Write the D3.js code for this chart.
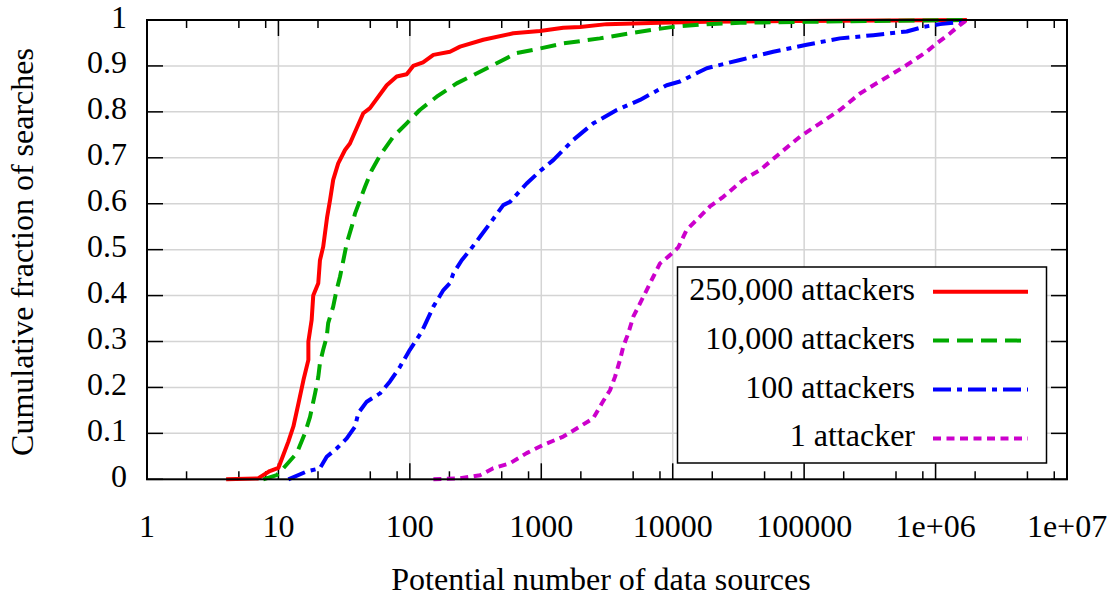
<!DOCTYPE html>
<html>
<head>
<meta charset="utf-8">
<script src="https://cdn.jsdelivr.net/npm/d3@7"></script>
</head>
<body style="margin:0">
<svg id="chart" width="1112" height="599" style="display:block"></svg>
<script>
// Cumulative distributions: [potential number of data sources, cumulative fraction]
const attackers250k = [
  [4.0,0],[7.0,0.002],[8.6,0.018],[10.0,0.025],[10.8,0.05],[11.9,0.082],[13.0,0.115],
  [14.2,0.165],[15.5,0.216],[16.9,0.26],[16.9,0.30],[17.9,0.347],[18.4,0.40],[20.1,0.427],
  [20.7,0.477],[21.9,0.506],[23.5,0.572],[24.7,0.608],[26.1,0.652],[28.5,0.688],[32.1,0.717],
  [35.0,0.731],[44.2,0.797],[49.7,0.808],[66.7,0.858],[79.4,0.877],[94.6,0.882],[106,0.90],
  [126,0.908],[151,0.924],[202,0.931],[241,0.942],[362,0.957],[612,0.971],[977,0.976],
  [1470,0.983],[1972,0.985],[3150,0.991],[8000,0.994],[18150,0.996],[93000,0.998],[1.73e6,1.0]
];
const attackers10k = [
  [7.67,0],[9.7,0.009],[10.9,0.024],[13.8,0.057],[15.9,0.10],[17.4,0.136],[19.0,0.187],
  [20.1,0.223],[20.7,0.253],[21.9,0.282],[23.3,0.31],[23.9,0.34],[26.1,0.376],[27.7,0.412],
  [29.4,0.441],[31.2,0.477],[33.1,0.514],[36.1,0.55],[38.3,0.579],[41.8,0.608],[45.6,0.637],
  [51.3,0.673],[59.3,0.705],[74.8,0.746],[94.6,0.775],[119,0.804],[160,0.833],[227,0.862],
  [304,0.88],[458,0.906],[650,0.928],[977,0.938],[1470,0.949],[2790,0.96],[4720,0.971],
  [7550,0.98],[10100,0.985],[18150,0.991],[32500,0.994],[104600,0.996],[336000,0.998],[1.73e6,1.0]
];
const attackers100 = [
  [11.9,0],[16.4,0.017],[20.7,0.024],[23.3,0.049],[27.7,0.067],[33.1,0.089],[38.3,0.115],
  [40.5,0.144],[47.0,0.169],[59.3,0.187],[70.6,0.213],[84.1,0.245],[100,0.282],[123,0.321],
  [151,0.376],[180,0.412],[202,0.427],[214,0.448],[248,0.477],[287,0.499],[342,0.528],
  [407,0.557],[514,0.597],[578,0.604],[774,0.644],[977,0.671],[1234,0.695],[1753,0.739],
  [2488,0.775],[3750,0.804],[5640,0.826],[9000,0.858],[11360,0.866],[18150,0.895],
  [32500,0.913],[58200,0.931],[104600,0.946],[187000,0.96],[336000,0.967],[603000,0.975],
  [807000,0.985],[1.08e6,0.991],[1.63e6,0.996],[1.73e6,1.0]
];
const attackers1 = [
  [151,0],[241,0.002],[342,0.009],[431,0.024],[578,0.035],[774,0.057],[1036,0.075],
  [1470,0.093],[1972,0.115],[2488,0.133],[2884,0.165],[3334,0.194],[3638,0.223],[3972,0.26],
  [4207,0.289],[4592,0.318],[5012,0.354],[5640,0.383],[6339,0.412],[7117,0.441],[8000,0.47],
  [9530,0.488],[11020,0.505],[12760,0.543],[16110,0.572],[19190,0.594],[24250,0.615],
  [34400,0.652],[46100,0.673],[65500,0.71],[93000,0.746],[132000,0.775],[187000,0.804],
  [266000,0.84],[336000,0.858],[477000,0.884],[603000,0.902],[855000,0.931],[1.02e6,0.949],
  [1.29e6,0.971],[1.53e6,0.989],[1.73e6,1.0]
];

const seriesNames = ["250,000 attackers", "10,000 attackers", "100 attackers", "1 attacker"];
const xTickValues = [1, 10, 100, 1000, 10000, 100000, 1e6, 1e7];
const xTickLabels = ["1", "10", "100", "1000", "10000", "100000", "1e+06", "1e+07"];
const xMinorMultipliers = [2, 5, 8];
const yTickValues = [0, 0.1, 0.2, 0.3, 0.4, 0.5, 0.6, 0.7, 0.8, 0.9, 1];
const yTickLabels = ["0", "0.1", "0.2", "0.3", "0.4", "0.5", "0.6", "0.7", "0.8", "0.9", "1"];

const seriesData = [attackers250k, attackers10k, attackers100, attackers1];
const seriesStyle = [
  { color: "#ff0000", dash: null },
  { color: "#00aa00", dash: "16,8" },
  { color: "#0000ff", dash: "18,6,5,6" },
  { color: "#cc00cc", dash: "8,5.5" }
];

const svg = d3.select("#chart");
const plotLeft = 147, plotRight = 1067, plotTop = 20, plotBottom = 479.3;

const x = d3.scaleLog().domain([1, 1e7]).range([plotLeft, plotRight]);
const y = d3.scaleLinear().domain([0, 1]).range([plotBottom, plotTop]);

function addText(parent, str) {
  const t = parent.append("text")
    .attr("font-family", "Liberation Serif")
    .style("font-family", "Liberation Serif")
    .attr("font-size", 32)
    .attr("fill", "#000")
    .text(str);
  t.node().getComputedTextLength();
  return t;
}

// grid
const grid = svg.append("g").attr("stroke", "#d4d4d4").attr("stroke-width", 1.5);
xTickValues.slice(1, -1).forEach(v => {
  grid.append("line").attr("x1", x(v)).attr("x2", x(v)).attr("y1", plotTop).attr("y2", plotBottom);
});
yTickValues.slice(1, -1).forEach(v => {
  grid.append("line").attr("x1", plotLeft).attr("x2", plotRight).attr("y1", y(v)).attr("y2", y(v));
});

// ticks (inward, mirrored on opposite sides)
const ticks = svg.append("g").attr("stroke", "#000").attr("stroke-width", 1.5);
xTickValues.forEach(v => {
  ticks.append("line").attr("x1", x(v)).attr("x2", x(v)).attr("y1", plotBottom).attr("y2", plotBottom - 16);
  ticks.append("line").attr("x1", x(v)).attr("x2", x(v)).attr("y1", plotTop).attr("y2", plotTop + 16);
});
xTickValues.slice(0, -1).forEach(v => {
  xMinorMultipliers.forEach(m => {
    const xv = x(v * m);
    ticks.append("line").attr("x1", xv).attr("x2", xv).attr("y1", plotBottom).attr("y2", plotBottom - 8);
    ticks.append("line").attr("x1", xv).attr("x2", xv).attr("y1", plotTop).attr("y2", plotTop + 8);
  });
});
yTickValues.forEach(v => {
  ticks.append("line").attr("x1", plotLeft).attr("x2", plotLeft + 16).attr("y1", y(v)).attr("y2", y(v));
  ticks.append("line").attr("x1", plotRight).attr("x2", plotRight - 16).attr("y1", y(v)).attr("y2", y(v));
});

// tick labels
const labels = svg.append("g");
xTickValues.forEach((v, i) => {
  addText(labels, xTickLabels[i]).attr("x", x(v)).attr("y", 537).attr("text-anchor", "middle");
});
yTickValues.forEach((v, i) => {
  addText(labels, yTickLabels[i]).attr("x", 127).attr("y", y(v) + 7.5).attr("text-anchor", "end");
});

// axis titles
addText(svg, "Potential number of data sources").attr("x", 601).attr("y", 590).attr("text-anchor", "middle");
addText(svg, "Cumulative fraction of searches").attr("transform", "translate(33,252) rotate(-90)")
  .attr("text-anchor", "middle");

// curves
const line = d3.line().x(d => x(d[0])).y(d => y(d[1]));
const plot = svg.append("g");
seriesData.forEach((data, i) => {
  const p = plot.append("path").datum(data).attr("d", line)
    .attr("fill", "none").attr("stroke", seriesStyle[i].color)
    .attr("stroke-width", 4).attr("stroke-linejoin", "round");
  if (seriesStyle[i].dash) p.attr("stroke-dasharray", seriesStyle[i].dash);
});

// legend
const lg = svg.append("g");
lg.append("rect").attr("x", 677.5).attr("y", 267).attr("width", 369).attr("height", 196)
  .attr("fill", "#fff").attr("stroke", "#000").attr("stroke-width", 1.5);
seriesNames.forEach((name, i) => {
  const ly = 291.7 + i * 48.9;
  addText(lg, name).attr("x", 915).attr("y", ly + 8).attr("text-anchor", "end");
  const s = lg.append("line").attr("x1", 933).attr("x2", 1028).attr("y1", ly).attr("y2", ly)
    .attr("stroke", seriesStyle[i].color).attr("stroke-width", 4);
  if (seriesStyle[i].dash) s.attr("stroke-dasharray", seriesStyle[i].dash);
});

// plot border
svg.append("rect").attr("x", plotLeft).attr("y", plotTop).attr("width", plotRight - plotLeft).attr("height", plotBottom - plotTop)
  .attr("fill", "none").attr("stroke", "#000").attr("stroke-width", 2);
</script>
</body>
</html>
